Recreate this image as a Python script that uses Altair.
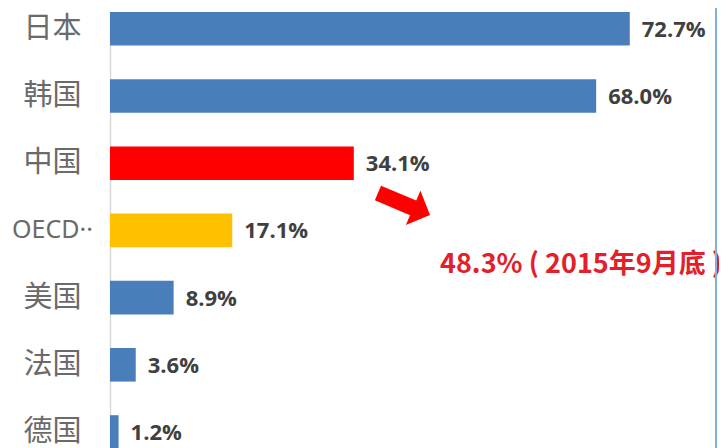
import altair as alt
import pandas as pd

categories = ["日本", "韩国", "中国", "OECD··", "美国", "法国", "德国"]
values = [72.7, 68.0, 34.1, 17.1, 8.9, 3.6, 1.2]
bar_colors = ["#4A7EBB", "#4A7EBB", "#FF0000", "#FFC000", "#4A7EBB", "#4A7EBB", "#4A7EBB"]
labels = [f"{v:.1f}%" for v in values]
note_text = "48.3% ( 2015年9月底 )"

df = pd.DataFrame({"cat": categories, "val": values, "color": bar_colors, "label": labels})

W, H = 607, 440
X_MAX = 84.9

y_enc = alt.Y(
    "cat:N",
    sort=categories,
    scale=alt.Scale(range=[4, 440.8], paddingInner=0.5, paddingOuter=0),
    axis=alt.Axis(
        title=None,
        ticks=False,
        tickSize=0,
        grid=False,
        domainColor="#D9D9D9",
        domainWidth=1.5,
        labelAlign="center",
        labelBaseline="middle",
        labelPadding=58,
        labelColor="#6A6A6A",
        labelFont={"condition": {"test": "datum.value == 'OECD··'", "value": "Noto Sans"}, "value": "Noto Sans CJK SC"},
        labelFontSize={"condition": {"test": "datum.value == 'OECD··'", "value": 25}, "value": 29},
        labelLimit=200,
    ),
)
x_enc = alt.X("val:Q", scale=alt.Scale(domain=[0, X_MAX], nice=False, zero=True), axis=None)

base = alt.Chart(df)

bars = base.mark_bar(clip=True).encode(
    x=x_enc, y=y_enc, color=alt.Color("color:N", scale=None)
)

vals = base.mark_text(
    align="left", baseline="middle", dx=12, dy=1,
    font="Open Sans", fontSize=22, fontWeight="bold", color="#404040",
).encode(x=x_enc, y=y_enc, text="label:N")

arrow_path = "M-1,-0.28L0.35,-0.28L0.35,-0.66L1,0L0.35,0.66L0.35,0.28L-1,0.28Z"
arrow = alt.Chart(pd.DataFrame({"k": [0]})).mark_point(
    shape=arrow_path, filled=True, color="#FF0000", opacity=1, size=3204, angle=23, strokeWidth=0,
).encode(x=alt.value(294), y=alt.value(196))

note = alt.Chart(pd.DataFrame({"t": [note_text]})).mark_text(
    align="left", baseline="middle", font="Noto Sans CJK SC", fontSize=27,
    fontWeight="bold", color="#E3202A",
).encode(x=alt.value(330), y=alt.value(257), text="t:N")

border = alt.Chart(pd.DataFrame({"k": [0]})).mark_rule(color="#7FB3DD", strokeWidth=2).encode(
    x=alt.value(W - 1), y=alt.value(0), y2=alt.value(H)
)

chart = (
    alt.layer(bars, vals, arrow, note, border)
    .properties(
        width=W, height=H,
        autosize=alt.AutoSizeParams(type="none"),
        padding={"left": 102, "right": 2, "top": 0, "bottom": 0},
        background="white",
    )
    .configure_view(stroke=None)
)

chart.save("out.html", embed_options={"renderer": "svg", "actions": False})
